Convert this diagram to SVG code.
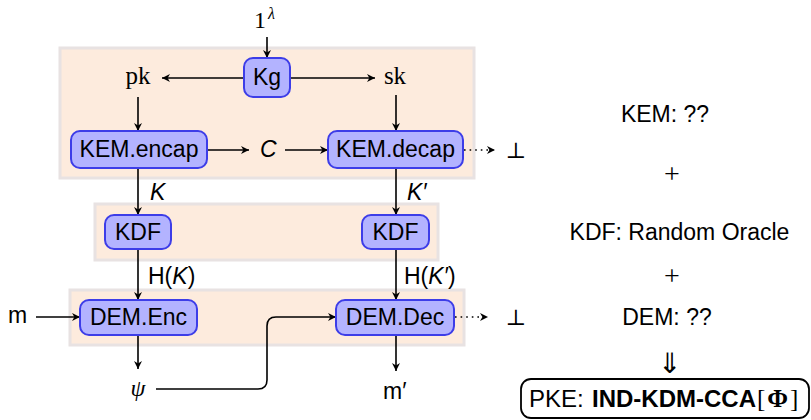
<svg xmlns="http://www.w3.org/2000/svg" width="811" height="420" viewBox="0 0 811 420">
<defs>
<marker id="arr" viewBox="0 0 10 10" refX="10" refY="5" markerWidth="10" markerHeight="8" markerUnits="userSpaceOnUse" orient="auto">
<path d="M0,0 L10,5 L0,10 L3,5 z" fill="#000"/>
</marker>
<style>
.bg{fill:#fdebdd;stroke:#e8e2e2;stroke-width:3}
.node{fill:#b3b3ff;stroke:#3d3de8;stroke-width:2}
.t{font-family:"Liberation Sans",Arial,sans-serif;font-size:23px;fill:#000}
.c{text-anchor:middle}
.s{font-family:"Liberation Serif","DejaVu Serif",serif;font-size:24px;fill:#000}
.i{font-style:italic}
.ln{fill:none;stroke:#000;stroke-width:1.6}
.a{marker-end:url(#arr)}
.dot{stroke-dasharray:1.6 4}
</style>
</defs>
<g id="backgrounds">
<rect class="bg" x="60" y="48" width="414" height="130"/>
<rect class="bg" x="95" y="204" width="343" height="56"/>
<rect class="bg" x="70" y="290" width="394" height="55"/>
</g>
<g id="connectors">
<line class="ln a" x1="267" y1="37" x2="267" y2="58"/>
<line class="ln a" x1="244" y1="78" x2="162" y2="78"/>
<line class="ln a" x1="290" y1="78" x2="375" y2="78"/>
<line class="ln a" x1="138" y1="97" x2="138" y2="131"/>
<line class="ln a" x1="396" y1="95" x2="396" y2="131"/>
<line class="ln a" x1="207" y1="150" x2="249" y2="150"/>
<line class="ln a" x1="285" y1="150" x2="328" y2="150"/>
<line class="ln a dot" x1="464" y1="150" x2="495" y2="150"/>
<line class="ln a" x1="138" y1="168" x2="138" y2="215"/>
<line class="ln a" x1="396" y1="168" x2="396" y2="215"/>
<line class="ln a" x1="138" y1="249" x2="138" y2="300"/>
<line class="ln a" x1="396" y1="249" x2="396" y2="300"/>
<line class="ln a" x1="36" y1="317" x2="80" y2="317"/>
<line class="ln a" x1="138" y1="335" x2="138" y2="369"/>
<line class="ln a" x1="396" y1="335" x2="396" y2="371"/>
<path class="ln a" d="M156,389 H258 Q267,389 267,380 V326 Q267,317 276,317 H336"/>
<line class="ln a dot" x1="455" y1="317" x2="488" y2="317"/>
</g>
<g id="Kg">
<rect class="node" x="244" y="58" width="46" height="39" rx="9"/>
<text class="t c" x="267" y="85">Kg</text>
</g>
<g id="KEMencap">
<rect class="node" x="71" y="131" width="136" height="37" rx="9"/>
<text class="t c" x="139" y="157">KEM.encap</text>
</g>
<g id="KEMdecap">
<rect class="node" x="328" y="131" width="135" height="37" rx="9"/>
<text class="t c" x="395.5" y="157">KEM.decap</text>
</g>
<g id="KDF1">
<rect class="node" x="105" y="215" width="66" height="34" rx="9"/>
<text class="t c" x="138" y="240">KDF</text>
</g>
<g id="KDF2">
<rect class="node" x="362" y="215" width="67" height="34" rx="9"/>
<text class="t c" x="395.5" y="240">KDF</text>
</g>
<g id="DEMEnc">
<rect class="node" x="80" y="300" width="117" height="35" rx="9"/>
<text class="t c" x="138.5" y="325">DEM.Enc</text>
</g>
<g id="DEMDec">
<rect class="node" x="336" y="300" width="118" height="35" rx="9"/>
<text class="t c" x="395" y="325">DEM.Dec</text>
</g>
<g id="labels">
<text class="s" x="254" y="28">1<tspan class="i" style="font-size:16px" dx="2" dy="-9">λ</tspan></text>
<text class="s c" x="138" y="84" style="font-size:25px">pk</text>
<text class="s c" x="395" y="84" style="font-size:25px">sk</text>
<text class="t i" x="260" y="157">C</text>
<text class="s c" x="516" y="158" style="font-size:22px">⊥</text>
<text class="t i" x="150" y="200">K</text>
<text class="t i" x="407" y="200">K′</text>
<text class="t" x="148" y="284">H(<tspan class="i">K</tspan>)</text>
<text class="t" x="404" y="284">H(<tspan class="i">K′</tspan>)</text>
<text class="t" x="8" y="323">m</text>
<text class="s c" x="516" y="325" style="font-size:22px">⊥</text>
<text class="s i c" x="138" y="396">ψ</text>
<text class="t" x="383" y="399">m′</text>
</g>
<g id="summary">
<text class="t c" x="665" y="122">KEM: ??</text>
<text class="s c" x="672" y="183" style="font-size:28px">+</text>
<text class="t c" x="679.5" y="240">KDF: Random Oracle</text>
<text class="s c" x="672" y="285" style="font-size:28px">+</text>
<text class="t c" x="667" y="325">DEM: ??</text>
<text class="c" x="669" y="373" style="font-family:'DejaVu Sans',sans-serif;font-size:28px;font-weight:200">⇓</text>
</g>
<g id="PKE">
<rect x="521" y="379" width="288" height="39" rx="10" fill="none" stroke="#000" stroke-width="1.8"/>
<text class="t" x="529" y="407" style="font-size:24px">PKE:<tspan x="592" font-weight="bold">IND-KDM-CCA</tspan><tspan class="s" x="757" style="font-size:25px">[<tspan dx="2" font-weight="bold">Φ</tspan><tspan dx="2">]</tspan></tspan></text>
</g>
</svg>
